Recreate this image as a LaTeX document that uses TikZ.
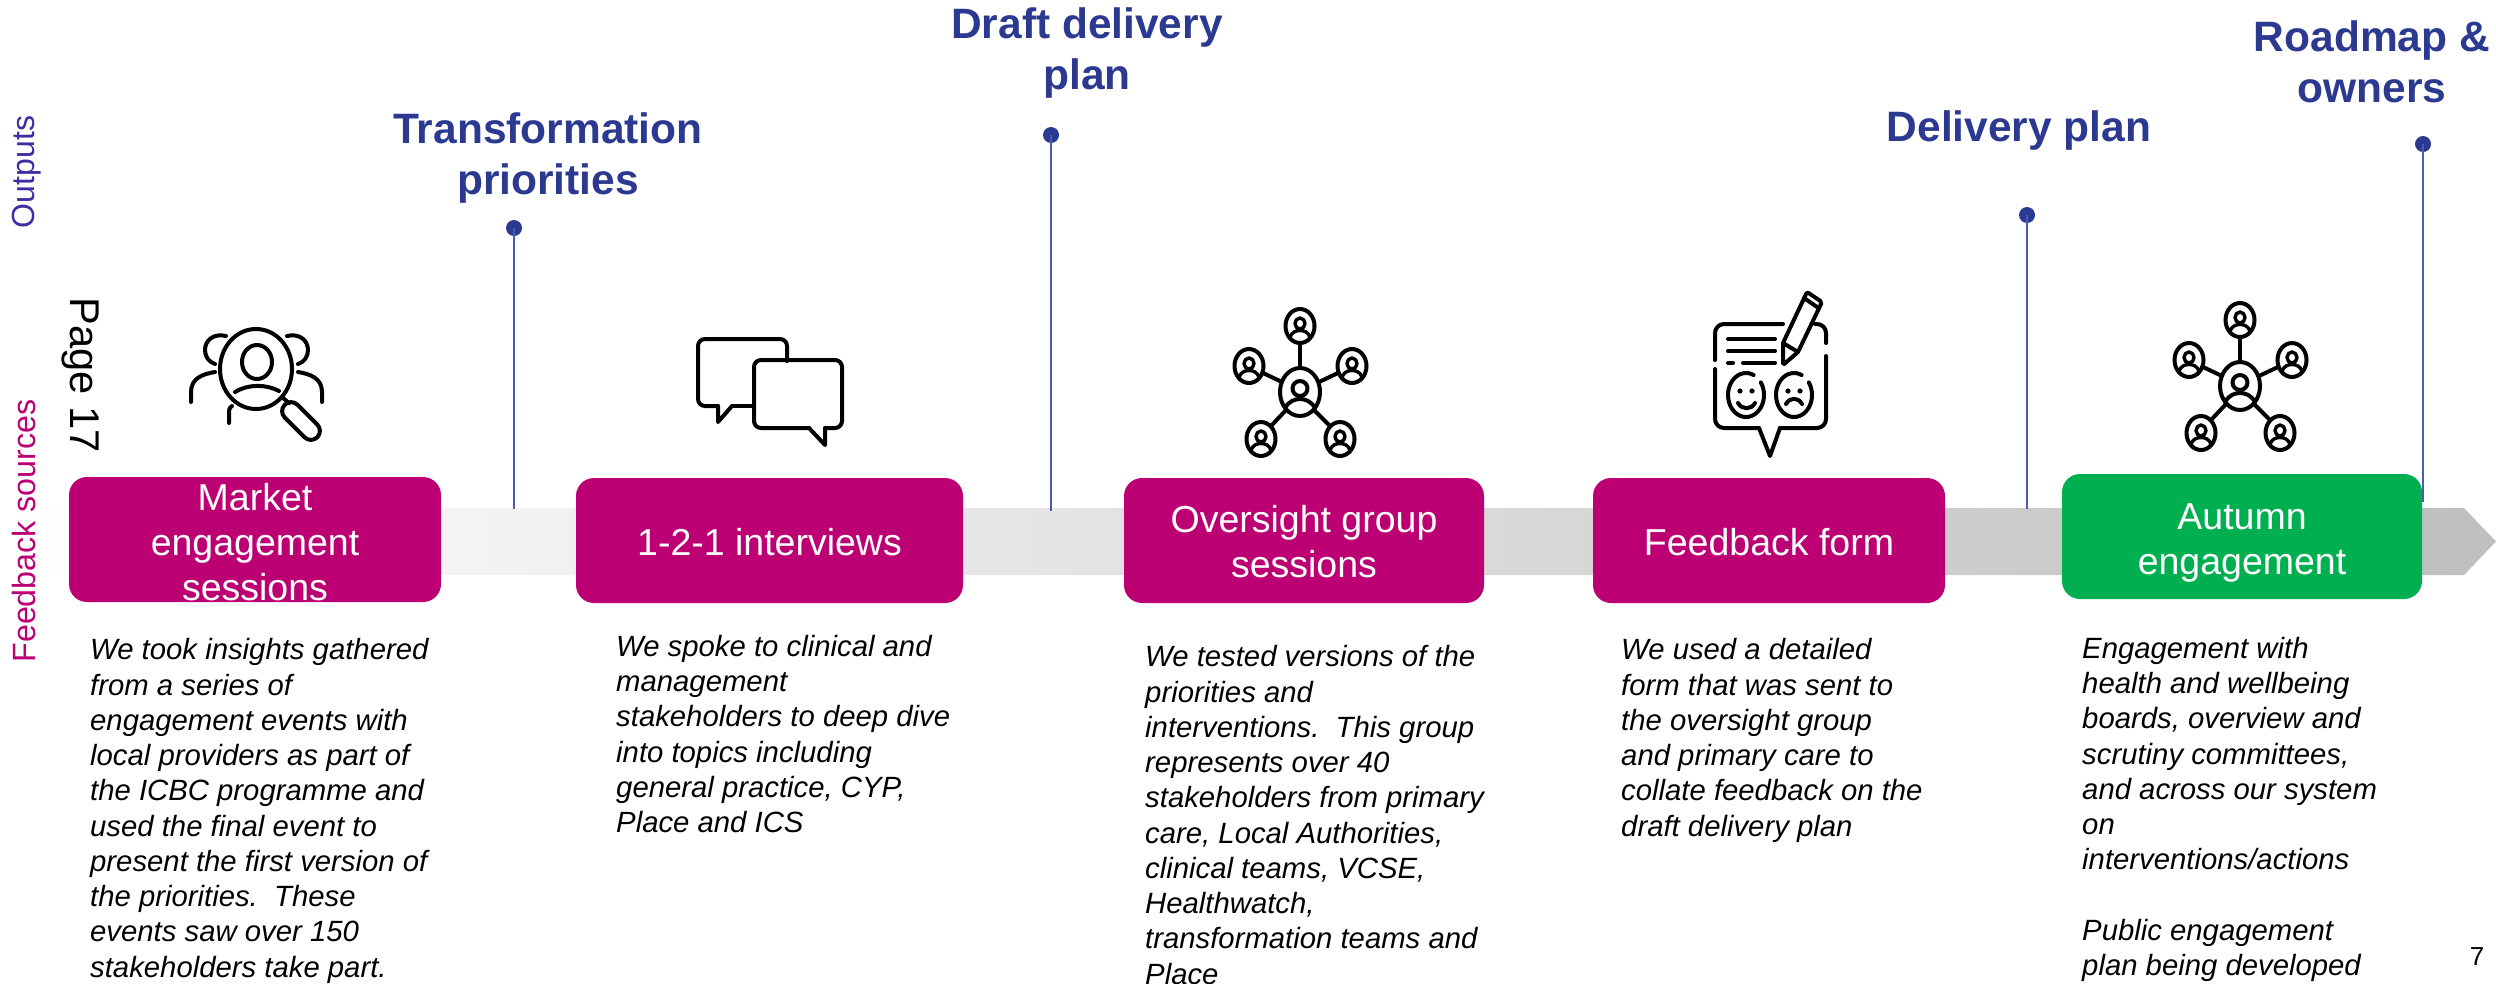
\documentclass[tikz,border=0pt]{standalone}
\usepackage{fontspec}
\setmainfont{Liberation Sans}
\usetikzlibrary{shapes.geometric,shadings}
\definecolor{mag}{HTML}{BC0073}
\definecolor{grn}{HTML}{00B050}
\definecolor{blu}{HTML}{2B3990}
\definecolor{vline}{HTML}{4A5DB5}
\definecolor{outl}{HTML}{3B2FA3}
\tikzset{
  stagebox/.style={rounded corners=18pt,fill=mag,inner sep=0pt},
  stagegreen/.style={stagebox,fill=grn},
  stagetext/.style={text=white,inner sep=0pt,align=center,font=\fontsize{37.5}{45}\selectfont},
  outtitle/.style={text=blu,align=center,inner sep=0pt,font=\fontsize{42.5}{51}\selectfont\bfseries},
  bodytext/.style={anchor=north west,align=left,inner sep=0pt,font=\fontsize{29.3}{35.25}\selectfont\itshape},
  dotnode/.style={circle,fill=blu,inner sep=0pt,minimum size=16pt},
  stem/.style={draw=vline,line width=2pt},
  iconline/.style={draw=black,line width=4pt,line cap=round,line join=round},
  netpic/.pic={
    \draw[iconline] (0,0) ellipse [x radius=20pt,y radius=24pt];
    \draw[iconline] (0,-3.5) ellipse [x radius=7.5pt,y radius=7.5pt];
    \draw[iconline] (-15,16) .. controls (-11,9) and (-5,7) .. (0,7) .. controls (5,7) and (11,9) .. (15,16);
    \foreach \px/\py/\ax/\ay/\bx/\by in {0/-66/0/-24/0/-49, -51/-26/-18/-10/-37/-19, 52/-26/19/-10/38/-19, -39/47/-14/18/-29/34, 40/47/14/18/29/33}{
      \begin{scope}[shift={(\px,\py)}]
        \draw[iconline] (0,0) ellipse [x radius=14.5pt,y radius=17pt];
        \draw[iconline,line width=3.4pt] (0,-2.5) ellipse [x radius=5pt,y radius=5.5pt];
        \draw[iconline,line width=3.4pt] (-10,11) .. controls (-8,6) and (-4,4.5) .. (0,4.5) .. controls (4,4.5) and (8,6) .. (10,11);
      \end{scope}
      \draw[iconline] (\ax,\ay) -- (\bx,\by);
    }
  }
}
\begin{document}
\begin{tikzpicture}[x=1pt,y=-1pt]
\useasboundingbox (0,0) rectangle (2496,983);
% band arrow
\path[left color=white,right color=black!25,shading=axis,shading angle=90]
  (0,508) -- (2464,508) -- (2496,541.5) -- (2464,575) -- (0,575) -- cycle;
\coordinate (bandA) at (514,509);
\coordinate (bandB) at (1051,511);
\coordinate (bandC) at (2027,509);
\coordinate (bandD) at (2423,502);
% stems and dots
\node[dotnode] (d1) at (514,228) {};
\node[dotnode] (d2) at (1051,135) {};
\node[dotnode] (d3) at (2027,215) {};
\node[dotnode] (d4) at (2423,144) {};
\draw[stem] (d1.center) -- (bandA);
\draw[stem] (d2.center) -- (bandB);
\draw[stem] (d3.center) -- (bandC);
\draw[stem] (d4.center) -- (bandD);
% stage boxes
\node[stagebox,minimum width=372pt,minimum height=125pt] (b1) at (255,539.5) {};
\node[stagebox,minimum width=387pt,minimum height=125pt] (b2) at (769.5,540.5) {};
\node[stagebox,minimum width=360pt,minimum height=125pt] (b3) at (1304,540.5) {};
\node[stagebox,minimum width=352pt,minimum height=125pt] (b4) at (1769,540.5) {};
\node[stagegreen,minimum width=360pt,minimum height=125pt] (b5) at (2242,536.5) {};
\node[stagetext,yshift=-3pt] (s1) at (b1.center) {Market\\engagement\\sessions};
\node[stagetext,yshift=-2pt] (s2) at (b2.center) {1-2-1 interviews};
\node[stagetext,yshift=-1pt] (s3) at (b3.center) {Oversight group\\sessions};
\node[stagetext,yshift=-2pt] (s4) at (b4.center) {Feedback form};
\node[stagetext,yshift=-6pt] (s5) at (b5.center) {Autumn\\engagement};
% output titles
\node[outtitle] (o1) at (548,158) {Transformation\\priorities};
\node[outtitle] (o2) at (1087,53) {Draft delivery\\plan};
\node[outtitle] (o3) at (2019,131) {Delivery plan};
\node[outtitle] (o4) at (2372,62) {Roadmap \&\\owners};
% side labels
\node[rotate=90,text=outl,inner sep=0pt,font=\fontsize{32}{36}\selectfont] (lo) at (27,172) {Outputs};
\node[rotate=90,text=mag,inner sep=0pt,font=\fontsize{32.2}{38}\selectfont] (lf) at (24,531) {Feedback sources};
\node[rotate=-90,inner sep=0pt,font=\fontsize{41.6}{48}\selectfont] (pg) at (80,375) {Page 17};
\node[inner sep=0pt,font=\fontsize{26}{30}\selectfont] (pn) at (2477,957) {7};
% body texts
\node[bodytext] (t1) at (90,638.5) {We took insights gathered\\from a series of\\engagement events with\\local providers as part of\\the ICBC programme and\\used the final event to\\present the first version of\\the priorities.\ \ These\\events saw over 150\\stakeholders take part.};
\node[bodytext] (t2) at (616,635) {We spoke to clinical and\\management\\stakeholders to deep dive\\into topics including\\general practice, CYP,\\Place and ICS};
\node[bodytext] (t3) at (1145,645.5) {We tested versions of the\\priorities and\\interventions.\ \ This group\\represents over 40\\stakeholders from primary\\care, Local Authorities,\\clinical teams, VCSE,\\Healthwatch,\\transformation teams and\\Place};
\node[bodytext] (t4) at (1621,638.5) {We used a detailed\\form that was sent to\\the oversight group\\and primary care to\\collate feedback on the\\draft delivery plan};
\node[bodytext] (t5) at (2082,637) {Engagement with\\health and wellbeing\\boards, overview and\\scrutiny committees,\\and across our system\\on\\interventions/actions\\[35.25pt]Public engagement\\plan being developed};
% icon 1
\draw[iconline] (256,369) ellipse [x radius=36pt,y radius=40pt];
\draw[iconline] (257,362) ellipse [x radius=15pt,y radius=17pt];
\draw[iconline] (235,392) .. controls (248,384) and (266,384) .. (279,391);
\draw[iconline] (226,336) .. controls (214,333) and (205,340) .. (205,350) .. controls (205,357) and (209,362) .. (215,364);
\draw[iconline] (287,336) .. controls (299,333) and (308,340) .. (308,350) .. controls (308,357) and (304,362) .. (298,364);
\draw[iconline] (215,372) .. controls (203,374) and (191,378) .. (191,392) -- (191,402);
\draw[iconline] (298,372) .. controls (310,374) and (322,378) .. (322,392) -- (322,402);
\draw[iconline] (232,406) .. controls (229,408) and (229,410) .. (229,414) -- (229,423);
\draw[iconline] (283,398) -- (289,403);
\draw[iconline,rounded corners=9pt,rotate around={-45:(301,421)}] (278,412) rectangle (324,430);
% icon 2
\draw[iconline,rounded corners=7pt] (754,406) -- (732,406);
\draw[iconline,rounded corners=7pt] (718,406) -- (698,406) -- (698,339) -- (787,339) -- (787,361);
\draw[iconline] (732,406) -- (718,422) -- (718,406);
\draw[iconline,rounded corners=7pt] (809,428) -- (754,428) -- (754,360) -- (842,360) -- (842,428) -- (825,428);
\draw[iconline] (809,428) -- (825,445) -- (825,428);
% icon 4
\draw[iconline,rounded corners=9pt] (1715,360) -- (1715,324) -- (1783,324);
\draw[iconline,rounded corners=9pt] (1815,324) -- (1826,324) -- (1826,343);
\draw[iconline,rounded corners=9pt] (1715,369) -- (1715,428) -- (1759,428);
\draw[iconline,rounded corners=9pt] (1826,356) -- (1826,428) -- (1780,428);
\draw[iconline] (1759,428) -- (1770,456) -- (1780,428);
\draw[iconline] (1728,339) -- (1775,339);
\draw[iconline] (1728,351) -- (1775,351);
\draw[iconline] (1728,363) -- (1733,363);
\draw[iconline] (1743,363) -- (1775,363);
\draw[iconline] plot[smooth,domain=65:395,samples=40] ({1746+18*cos(\x)},{395-22*sin(\x)});
\draw[iconline] plot[smooth,domain=65:395,samples=40] ({1794+18*cos(\x)},{395-22*sin(\x)});
\fill (1740,391) circle (2.6pt) (1752,391) circle (2.6pt) (1788,391) circle (2.6pt) (1800,391) circle (2.6pt);
\draw[iconline] (1738,403) .. controls (1742,410) and (1751,410) .. (1755,403);
\draw[iconline] (1786,404) .. controls (1790,397) and (1798,397) .. (1802,404);
\draw[iconline,rounded corners=2pt] (1783,343) -- (1807,292) -- (1822,302) -- (1798,352) -- (1783,365) -- cycle;
\draw[iconline] (1783,343) -- (1798,352);
\draw[iconline] (1804,298) -- (1817,307);
% network icons
\pic at (1300,392) {netpic};
\pic at (2240,386) {netpic};
\end{tikzpicture}
\end{document}
